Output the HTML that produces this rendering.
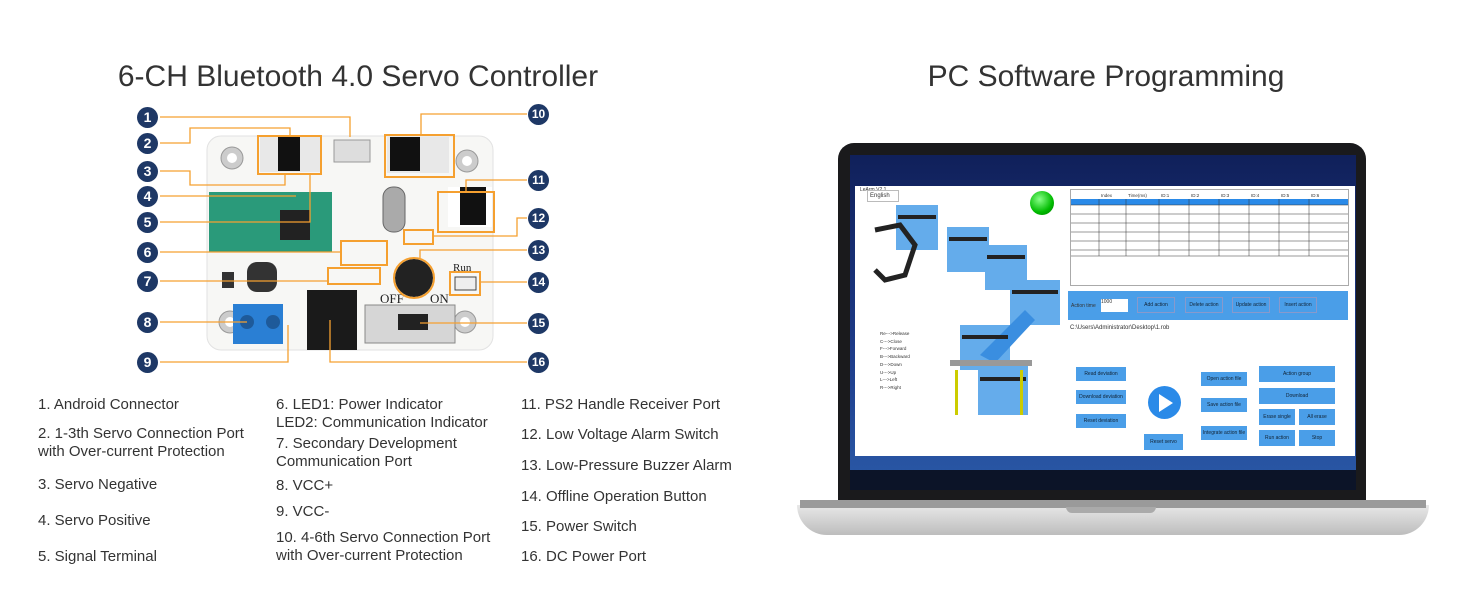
<!DOCTYPE html>
<html><head><meta charset="utf-8"><style>
*{margin:0;padding:0;box-sizing:border-box}
body{width:1464px;height:600px;background:#fff;position:relative;overflow:hidden;font-family:"Liberation Sans",sans-serif;color:#333}
.a{position:absolute}
.t{font-size:15px;line-height:18px;color:#333;white-space:nowrap}
.n{position:absolute;width:21px;height:21px;border-radius:50%;background:#1e3866;color:#fff;font-size:14px;font-weight:bold;text-align:center;line-height:21px}
.b{position:absolute;background:#4a9ee8;color:#123;font-size:5px;text-align:center;line-height:1.2;display:flex;align-items:center;justify-content:center}
</style></head><body>
<div class="a" style="left:0;width:716px;top:60px;text-align:center;font-size:30px">6-CH Bluetooth 4.0 Servo Controller</div>
<div class="a" style="left:850px;width:512px;top:60px;text-align:center;font-size:30px">PC Software Programming</div>

<svg class="a" style="left:0;top:0" width="716" height="390">
<rect x="207" y="136" width="286" height="214" rx="14" fill="#f7f7f5" stroke="#e2e2e2"/>
<g fill="#ccc" stroke="#999"><circle cx="232" cy="158" r="11"/><circle cx="467" cy="161" r="11"/><circle cx="230" cy="322" r="11"/><circle cx="465" cy="322" r="11"/></g>
<g fill="#fff"><circle cx="232" cy="158" r="5"/><circle cx="467" cy="161" r="5"/><circle cx="230" cy="322" r="5"/><circle cx="465" cy="322" r="5"/></g>
<rect x="260" y="136" width="60" height="36" fill="#e8e8e8"/><rect x="278" y="137" width="22" height="34" fill="#111"/>
<rect x="387" y="137" width="62" height="36" fill="#e8e8e8"/><rect x="390" y="137" width="30" height="34" fill="#111"/>
<rect x="334" y="140" width="36" height="22" fill="#ddd" stroke="#999"/>
<rect x="209" y="192" width="123" height="60" fill="#2a9a7a"/><rect x="280" y="210" width="30" height="30" fill="#222"/>
<rect x="383" y="187" width="22" height="45" rx="10" fill="#aaa" stroke="#666"/>
<rect x="448" y="187" width="44" height="40" fill="#fff"/><rect x="460" y="187" width="26" height="38" fill="#111"/>
<circle cx="414" cy="278" r="19" fill="#222"/>
<rect x="247" y="262" width="30" height="30" rx="10" fill="#333"/><rect x="222" y="272" width="12" height="16" fill="#333"/>
<rect x="233" y="304" width="50" height="40" fill="#2a7fd4"/><circle cx="247" cy="322" r="7" fill="#1e5a9a"/><circle cx="273" cy="322" r="7" fill="#1e5a9a"/>
<rect x="307" y="290" width="50" height="60" fill="#1a1a1a"/>
<rect x="365" y="305" width="90" height="38" fill="#d6d6d6" stroke="#888"/><rect x="398" y="314" width="30" height="16" fill="#222"/>
<text x="380" y="303" font-size="13" font-family="Liberation Serif" fill="#222">OFF</text><text x="430" y="303" font-size="13" font-family="Liberation Serif" fill="#222">ON</text>
<text x="453" y="271" font-size="11" font-family="Liberation Serif" fill="#222">Run</text>
<rect x="455" y="277" width="21" height="13" fill="#eee" stroke="#444"/>
<g fill="none" stroke="#f5a030" stroke-width="2">
<rect x="258" y="136" width="63" height="38"/><rect x="385" y="135" width="69" height="42"/><rect x="438" y="192" width="56" height="40"/>
<rect x="404" y="230" width="29" height="14"/><rect x="341" y="241" width="46" height="24"/><rect x="450" y="272" width="30" height="23"/>
<rect x="328" y="268" width="52" height="16"/><circle cx="414" cy="278" r="20"/>
</g>
<g fill="none" stroke="#f5a030" stroke-width="1.3">
<polyline points="160,117 350,117 350,137"/><polyline points="160,143 190,143 190,128 290,128 290,137"/>
<polyline points="160,171 190,171 190,185 285,185 285,175"/><line x1="160" y1="196" x2="296" y2="196"/>
<polyline points="160,222 310,222 310,175"/><line x1="160" y1="252" x2="341" y2="252"/>
<line x1="160" y1="281" x2="328" y2="281"/><line x1="160" y1="322" x2="247" y2="322"/>
<polyline points="160,362 288,362 288,325"/>
<polyline points="527,114 421,114 421,135"/><polyline points="527,180 466,180 466,192"/>
<polyline points="527,218 517,218 517,236 433,236"/><polyline points="527,250 420,250 420,258"/>
<line x1="527" y1="282" x2="480" y2="282"/><line x1="527" y1="323" x2="420" y2="323"/>
<polyline points="527,362 330,362 330,320"/>
</g>
</svg>
<div class="n" style="left:137px;top:107px">1</div><div class="n" style="left:137px;top:133px">2</div><div class="n" style="left:137px;top:161px">3</div>
<div class="n" style="left:137px;top:186px">4</div><div class="n" style="left:137px;top:212px">5</div><div class="n" style="left:137px;top:242px">6</div>
<div class="n" style="left:137px;top:271px">7</div><div class="n" style="left:137px;top:312px">8</div><div class="n" style="left:137px;top:352px">9</div>
<div class="n" style="left:528px;top:104px;font-size:12px">10</div><div class="n" style="left:528px;top:170px;font-size:12px">11</div>
<div class="n" style="left:528px;top:208px;font-size:12px">12</div><div class="n" style="left:528px;top:240px;font-size:12px">13</div>
<div class="n" style="left:528px;top:272px;font-size:12px">14</div><div class="n" style="left:528px;top:313px;font-size:12px">15</div>
<div class="n" style="left:528px;top:352px;font-size:12px">16</div>

<div class="a t" style="left:38px;top:396px">1. Android Connector</div>
<div class="a t" style="left:38px;top:425px">2. 1-3th Servo Connection Port<br>with Over-current Protection</div>
<div class="a t" style="left:38px;top:476px">3. Servo Negative</div>
<div class="a t" style="left:38px;top:512px">4. Servo Positive</div>
<div class="a t" style="left:38px;top:548px">5. Signal Terminal</div>
<div class="a t" style="left:276px;top:396px">6. LED1: Power Indicator<br>LED2: Communication Indicator</div>
<div class="a t" style="left:276px;top:435px">7. Secondary Development<br>Communication Port</div>
<div class="a t" style="left:276px;top:477px">8. VCC+</div>
<div class="a t" style="left:276px;top:503px">9. VCC-</div>
<div class="a t" style="left:276px;top:529px">10. 4-6th Servo Connection Port<br>with Over-current Protection</div>
<div class="a t" style="left:521px;top:396px">11. PS2 Handle Receiver Port</div>
<div class="a t" style="left:521px;top:426px">12. Low Voltage Alarm Switch</div>
<div class="a t" style="left:521px;top:457px">13. Low-Pressure Buzzer Alarm</div>
<div class="a t" style="left:521px;top:488px">14. Offline Operation Button</div>
<div class="a t" style="left:521px;top:518px">15. Power Switch</div>
<div class="a t" style="left:521px;top:548px">16. DC Power Port</div>

<!-- laptop -->
<div class="a" style="left:838px;top:143px;width:528px;height:362px;background:#1a1a1c;border-radius:16px 16px 4px 4px"></div>
<div class="a" style="left:850px;top:155px;width:506px;height:335px;background:linear-gradient(#10205a,#1e3c8a 60%,#2a5aa8)"></div>
<div class="a" style="left:855px;top:186px;width:500px;height:270px;background:#fff"></div>
<div class="a" style="left:850px;top:470px;width:506px;height:20px;background:#0c1428"></div>
<div class="a" style="left:797px;top:505px;width:632px;height:30px;background:linear-gradient(#e8e8e8,#bdbdbd);border-radius:0 0 40px 40px"></div>
<div class="a" style="left:800px;top:500px;width:626px;height:8px;background:#9a9a9a"></div>
<div class="a" style="left:1066px;top:507px;width:90px;height:6px;background:#aaa;border-radius:0 0 6px 6px"></div>
<div class="a" style="left:860px;top:187px;font-size:5px;color:#333">LeArm V2.1</div>
<div class="a" style="left:867px;top:190px;width:32px;height:12px;border:1px solid #bbb;font-size:6px;padding:2px">English</div>
<div class="a" style="left:1030px;top:191px;width:24px;height:24px;border-radius:50%;background:radial-gradient(circle at 40% 35%,#8f8,#0b0 60%,#070)"></div>
<svg class="a" style="left:870px;top:205px" width="195" height="210">
<g fill="#4a9ee8" opacity=".85"><rect x="26" y="0" width="42" height="45"/><rect x="77" y="22" width="42" height="45"/><rect x="115" y="40" width="42" height="45"/><rect x="140" y="75" width="50" height="45"/><rect x="90" y="120" width="50" height="45"/><rect x="108" y="160" width="50" height="50"/></g>
<polygon points="155,105 110,150 125,158 165,115" fill="#3a8ee0"/>
<g fill="#222"><rect x="28" y="10" width="38" height="4"/><rect x="79" y="32" width="38" height="4"/><rect x="117" y="50" width="38" height="4"/><rect x="142" y="85" width="46" height="4"/><rect x="92" y="130" width="46" height="4"/><rect x="110" y="172" width="46" height="4"/></g>
<path d="M5 25 L30 20 L45 40 L35 70 L15 75 L5 65" fill="none" stroke="#222" stroke-width="5"/>
<rect x="80" y="155" width="82" height="6" fill="#999"/><rect x="85" y="165" width="3" height="45" fill="#cc0"/><rect x="150" y="165" width="3" height="45" fill="#cc0"/>
</svg>
<div class="a" style="left:880px;top:330px;font-size:4.5px;line-height:7.7px;color:#333">Re---&gt;Release<br>C---&gt;Close<br>F---&gt;Forward<br>B---&gt;Backward<br>D---&gt;Down<br>U---&gt;Up<br>L---&gt;Left<br>R---&gt;Right</div>
<div class="a" style="left:1070px;top:189px;width:279px;height:97px;border:1px solid #aaa;background:#fff"></div>
<svg class="a" style="left:1071px;top:190px" width="277" height="68">
<rect x="0" y="9" width="277" height="6" fill="#2a8ae8"/>
<g stroke="#333" stroke-width=".5"><line x1="0" y1="15" x2="277" y2="15"/><line x1="0" y1="24" x2="277" y2="24"/><line x1="0" y1="33" x2="277" y2="33"/><line x1="0" y1="42" x2="277" y2="42"/><line x1="0" y1="51" x2="277" y2="51"/><line x1="0" y1="60" x2="277" y2="60"/><line x1="0" y1="66" x2="277" y2="66"/>
<line x1="28" y1="9" x2="28" y2="66"/><line x1="55" y1="9" x2="55" y2="66"/><line x1="88" y1="9" x2="88" y2="66"/><line x1="118" y1="9" x2="118" y2="66"/><line x1="148" y1="9" x2="148" y2="66"/><line x1="178" y1="9" x2="178" y2="66"/><line x1="208" y1="9" x2="208" y2="66"/><line x1="238" y1="9" x2="238" y2="66"/></g>
<g font-size="4.5" fill="#333"><text x="30" y="7">Index</text><text x="57" y="7">Time(ms)</text><text x="90" y="7">ID:1</text><text x="120" y="7">ID:2</text><text x="150" y="7">ID:3</text><text x="180" y="7">ID:4</text><text x="210" y="7">ID:5</text><text x="240" y="7">ID:6</text></g>
</svg>
<div class="a" style="left:1068px;top:291px;width:280px;height:29px;background:#4a9ee8"></div>
<div class="a" style="left:1071px;top:303px;font-size:5px">Action time</div>
<div class="a" style="left:1101px;top:299px;width:27px;height:13px;background:#fff;font-size:5px">1000</div>
<div class="b" style="left:1137px;top:297px;width:38px;height:16px;border:1px solid #89c">Add action</div>
<div class="b" style="left:1185px;top:297px;width:38px;height:16px;border:1px solid #89c">Delete action</div>
<div class="b" style="left:1232px;top:297px;width:38px;height:16px;border:1px solid #89c">Update action</div>
<div class="b" style="left:1279px;top:297px;width:38px;height:16px;border:1px solid #89c">Insert action</div>
<div class="a" style="left:1070px;top:325px;font-size:6px">C:\Users\Administrator\Desktop\1.rob</div>
<div class="b" style="left:1076px;top:367px;width:50px;height:14px">Read deviation</div>
<div class="b" style="left:1076px;top:390px;width:50px;height:14px">Download deviation</div>
<div class="b" style="left:1076px;top:414px;width:50px;height:14px">Reset deviation</div>
<div class="a" style="left:1148px;top:386px;width:33px;height:33px;border-radius:50%;background:#2a8ae8"></div>
<div class="a" style="left:1159px;top:394px;width:0;height:0;border-left:14px solid #fff;border-top:9px solid transparent;border-bottom:9px solid transparent"></div>
<div class="b" style="left:1144px;top:434px;width:39px;height:16px">Reset servo</div>
<div class="b" style="left:1201px;top:372px;width:46px;height:14px">Open action file</div>
<div class="b" style="left:1201px;top:398px;width:46px;height:14px">Save action file</div>
<div class="b" style="left:1201px;top:426px;width:46px;height:14px">Integrate action file</div>
<div class="b" style="left:1259px;top:366px;width:76px;height:16px">Action group</div>
<div class="b" style="left:1259px;top:388px;width:76px;height:16px">Download</div>
<div class="b" style="left:1259px;top:409px;width:36px;height:16px">Erase single</div>
<div class="b" style="left:1299px;top:409px;width:36px;height:16px">All erase</div>
<div class="b" style="left:1259px;top:430px;width:36px;height:16px">Run action</div>
<div class="b" style="left:1299px;top:430px;width:36px;height:16px">Stop</div>
</body></html>
